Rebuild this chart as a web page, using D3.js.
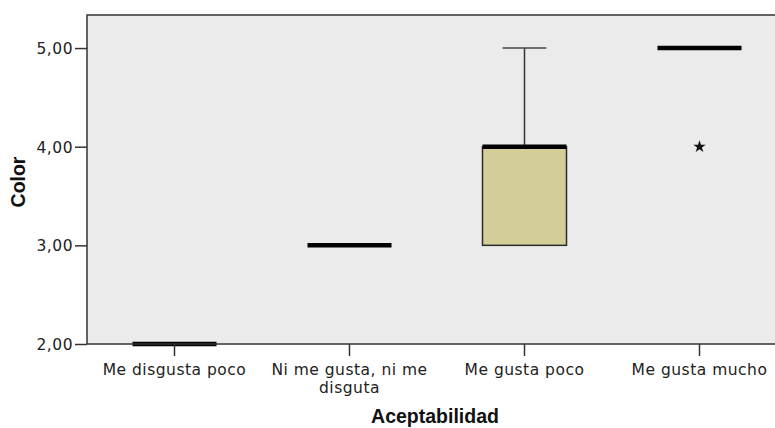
<!DOCTYPE html>
<html>
<head>
<meta charset="utf-8">
<script src="https://cdn.jsdelivr.net/npm/d3@7"></script>
<style>
  html, body { margin: 0; padding: 0; background: #fff; }
  svg { display: block; }
  .tick text { font-family: "DejaVu Sans", sans-serif; font-size: 15.5px; letter-spacing: 0.5px; fill: #222; }
  .title { font-family: "Liberation Sans", Arial, sans-serif; font-weight: bold; font-size: 19.5px; fill: #111; }
</style>
</head>
<body>
<svg id="chart" width="775" height="428"></svg>
<script>
// Acceptability groups and the five-number summaries of "Color" per group
const categories = ["Me disgusta poco", "Ni me gusta, ni me disguta", "Me gusta poco", "Me gusta mucho"];
const whiskerLow = [2, 3, 3, 5];
const q1 = [2, 3, 3, 5];
const median = [2, 3, 4, 5];
const q3 = [2, 3, 4, 5];
const whiskerHigh = [2, 3, 5, 5];
const extremes = [[], [], [], [4]];
const yTicks = [2, 3, 4, 5];

const W = 775, H = 428;
const margin = { left: 87, top: 15, right: -12, bottom: 84 };
const svg = d3.select("#chart");

const x = d3.scaleBand()
  .domain(categories)
  .range([margin.left, W - margin.right])
  .padding(0);

const y = d3.scaleLinear()
  .domain([2, 5.335])
  .range([H - margin.bottom, margin.top]);

const fmt = v => d3.format(".2f")(v).replace(".", ",");

// plot background
svg.append("rect")
  .attr("x", margin.left)
  .attr("y", margin.top)
  .attr("width", W - margin.right - margin.left)
  .attr("height", y(2) - margin.top)
  .attr("fill", "#ebebeb");

const boxW = x.bandwidth() * 0.48;
const capW = boxW * 0.52;

const groups = svg.append("g").selectAll("g")
  .data(categories)
  .join("g")
  .attr("transform", d => `translate(${x(d) + x.bandwidth() / 2},0)`);

// upper whisker
groups.filter((d, i) => whiskerHigh[i] > q3[i]).each(function (d) {
  const i = categories.indexOf(d);
  const g = d3.select(this);
  g.append("line").attr("x1", 0).attr("x2", 0)
    .attr("y1", y(q3[i])).attr("y2", y(whiskerHigh[i]))
    .attr("stroke", "#333").attr("stroke-width", 1.5);
  g.append("line").attr("x1", -capW / 2).attr("x2", capW / 2)
    .attr("y1", y(whiskerHigh[i])).attr("y2", y(whiskerHigh[i]))
    .attr("stroke", "#444").attr("stroke-width", 1.5);
});

// lower whisker
groups.filter((d, i) => whiskerLow[i] < q1[i]).each(function (d) {
  const i = categories.indexOf(d);
  const g = d3.select(this);
  g.append("line").attr("x1", 0).attr("x2", 0)
    .attr("y1", y(q1[i])).attr("y2", y(whiskerLow[i]))
    .attr("stroke", "#333").attr("stroke-width", 1.5);
  g.append("line").attr("x1", -capW / 2).attr("x2", capW / 2)
    .attr("y1", y(whiskerLow[i])).attr("y2", y(whiskerLow[i]))
    .attr("stroke", "#444").attr("stroke-width", 1.5);
});

// interquartile box
groups.filter((d, i) => q3[i] > q1[i]).append("rect")
  .attr("x", -boxW / 2)
  .attr("width", boxW)
  .attr("y", d => y(q3[categories.indexOf(d)]))
  .attr("height", d => { const i = categories.indexOf(d); return y(q1[i]) - y(q3[i]); })
  .attr("fill", "#d3ce97")
  .attr("stroke", "#2b2b2b")
  .attr("stroke-width", 1.5);

// median bar
groups.append("line")
  .attr("x1", -boxW / 2).attr("x2", boxW / 2)
  .attr("y1", d => y(median[categories.indexOf(d)]))
  .attr("y2", d => y(median[categories.indexOf(d)]))
  .attr("stroke", "#000")
  .attr("stroke-width", 4.5);

// extreme values
groups.each(function (d) {
  const i = categories.indexOf(d);
  d3.select(this).selectAll("path.star")
    .data(extremes[i])
    .join("path")
    .attr("class", "star")
    .attr("d", d3.symbol(d3.symbolStar, 48))
    .attr("transform", v => `translate(0,${y(v)})`)
    .attr("fill", "#111");
});

// frame
svg.append("rect")
  .attr("x", margin.left)
  .attr("y", margin.top)
  .attr("width", W - margin.right - margin.left)
  .attr("height", y(2) - margin.top)
  .attr("fill", "none")
  .attr("stroke", "#333")
  .attr("stroke-width", 1.5);

// y axis
const yAxis = svg.append("g")
  .attr("transform", `translate(${margin.left},0)`)
  .call(d3.axisLeft(y).tickValues(yTicks).tickFormat(fmt).tickSize(12).tickPadding(2));
yAxis.select(".domain").remove();
yAxis.selectAll(".tick line").attr("stroke", "#333").attr("stroke-width", 1.5);
yAxis.selectAll(".tick text").attr("dy", "0.36em");

// x axis
const xAxis = svg.append("g")
  .attr("transform", `translate(0,${y(2)})`)
  .call(d3.axisBottom(x).tickSize(12).tickPadding(8));
xAxis.select(".domain").remove();
xAxis.selectAll(".tick line").attr("stroke", "#333").attr("stroke-width", 1.5);

// wrap long category names onto two lines
xAxis.selectAll(".tick text").each(function () {
  const t = d3.select(this);
  const words = t.text().split(/\s+/);
  const maxW = 170;
  t.text(null);
  let line = [];
  let tspan = t.append("tspan").attr("x", 0).attr("dy", "0.71em");
  for (const w of words) {
    line.push(w);
    tspan.text(line.join(" "));
    if (tspan.node().getComputedTextLength() > maxW && line.length > 1) {
      line.pop();
      tspan.text(line.join(" "));
      line = [w];
      tspan = t.append("tspan").attr("x", 0).attr("dy", "1.15em").text(w);
    }
  }
});

// axis titles
svg.append("text")
  .attr("class", "title")
  .attr("x", 435)
  .attr("y", 423)
  .attr("text-anchor", "middle")
  .text("Aceptabilidad");

svg.append("text")
  .attr("class", "title")
  .attr("transform", "translate(25,182) rotate(-90)")
  .attr("text-anchor", "middle")
  .text("Color");
</script>
</body>
</html>
